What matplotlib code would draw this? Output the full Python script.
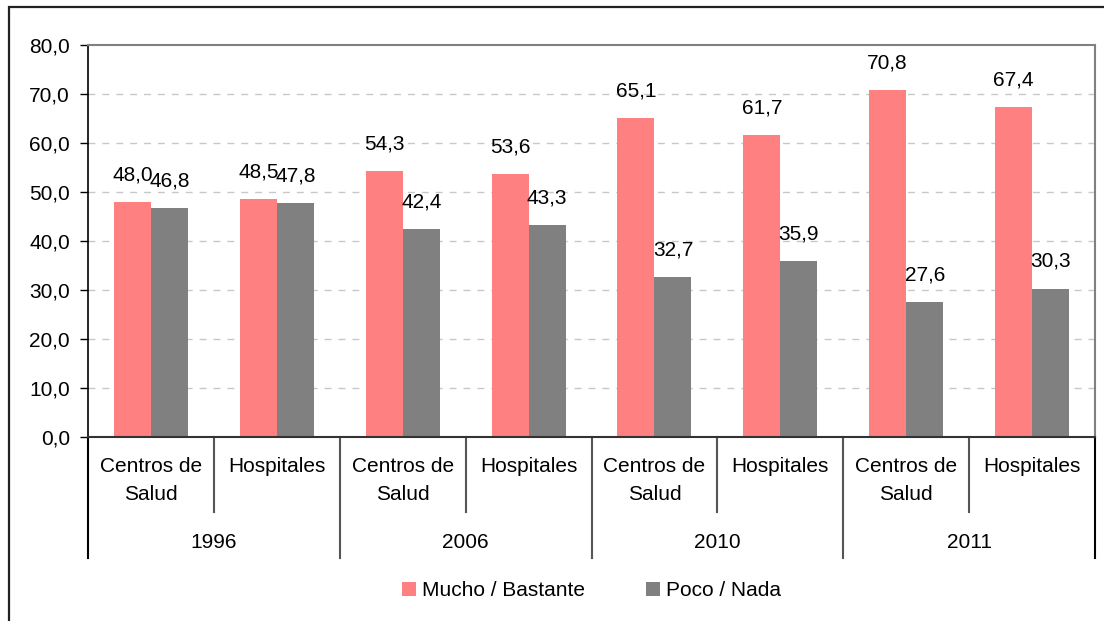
import matplotlib
matplotlib.use('Agg')
import matplotlib.pyplot as plt
from matplotlib.lines import Line2D
from matplotlib.patches import Rectangle

# Valoración de centros de salud y hospitales por año
years = ['1996', '2006', '2010', '2011']
centers = ['Centros de\nSalud', 'Hospitales']
mucho = [48.0, 48.5, 54.3, 53.6, 65.1, 61.7, 70.8, 67.4]
poco = [46.8, 47.8, 42.4, 43.3, 32.7, 35.9, 27.6, 30.3]
series_names = ['Mucho / Bastante', 'Poco / Nada']
yticks = [0, 10, 20, 30, 40, 50, 60, 70, 80]

pink = '#FF8080'
grey = '#808080'
fs = 15

W, H = 1104, 621
fig = plt.figure(figsize=(W / 100, H / 100), dpi=100)
plt.rcParams['font.family'] = ['Liberation Sans', 'DejaVu Sans']


def fmt(v):
    return ('%.1f' % v).replace('.', ',')


# outer frame (right and bottom edges fall outside the canvas)
fig.patches.append(Rectangle((9 / W, -0.1), 1.1, (H - 7) / H + 0.1,
                             transform=fig.transFigure, fill=False,
                             edgecolor='#222222', lw=1.6))

ax = fig.add_axes([88 / W, (H - 437) / H, (1095 - 88) / W, (437 - 45) / H])
n = len(mucho)
x = list(range(n))
bw = 0.294
ax.bar([i - bw / 2 for i in x], mucho, bw, color=pink, label=series_names[0], zorder=2)
ax.bar([i + bw / 2 for i in x], poco, bw, color=grey, label=series_names[1], zorder=2)

ax.set_xlim(-0.5, n - 0.5)
ax.set_ylim(0, 80)
ax.set_yticks(yticks)
ax.set_yticklabels([fmt(v) for v in yticks], fontsize=fs)
ax.tick_params(axis='y', length=6, width=1, pad=7, color='black')
ax.set_xticks([])
for v in yticks[1:-1]:
    ax.axhline(v, color='#C8C8C8', lw=1, dashes=(5, 5), zorder=1)
for s in ['top', 'right']:
    ax.spines[s].set_color(grey)
    ax.spines[s].set_linewidth(1.5)
ax.spines['left'].set_color('black')
ax.spines['bottom'].set_color('#333333')
ax.spines['left'].set_linewidth(1.2)
ax.spines['bottom'].set_linewidth(1.5)

for i in x:
    ax.annotate(fmt(mucho[i]), (i - bw / 2, mucho[i]), xytext=(0, 19.5),
                textcoords='offset points', ha='center', va='center', fontsize=fs)
    ax.annotate(fmt(poco[i]), (i + bw / 2, poco[i]), xytext=(0, 19.5),
                textcoords='offset points', ha='center', va='center', fontsize=fs)

# hierarchical category axis
tr = ax.get_xaxis_transform()
ph = 437 - 45
for i in x:
    for k, line in enumerate(centers[i % 2].split('\n')):
        ax.text(i, (437 - 466 - 29 * k) / ph, line, transform=tr, ha='center',
                va='center', fontsize=fs, clip_on=False)
for j, yr in enumerate(years):
    ax.text(2 * j + 0.5, (437 - 542) / ph, yr, transform=tr, ha='center',
            va='center', fontsize=fs, clip_on=False)
for b in range(n + 1):
    xb = b - 0.5
    y1 = (437 - 558) / ph if b % 2 == 0 else (437 - 512) / ph
    c = 'black' if b in (0, n) else '#555555'
    ax.add_line(Line2D([xb, xb], [0, y1], transform=tr, color=c, lw=1.5,
                       clip_on=False))

ax.legend(loc='center', bbox_to_anchor=(0.5, (437 - 591) / ph), ncol=2,
          frameon=False, fontsize=fs, handlelength=0.67, handleheight=0.67,
          handletextpad=0.3, columnspacing=2.9)

fig.savefig('out.png', dpi=100)
